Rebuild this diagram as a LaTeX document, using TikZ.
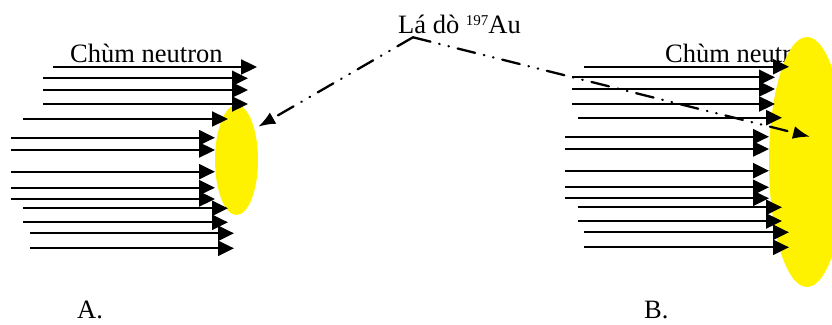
\documentclass[tikz,border=0pt]{standalone}
\usepackage{fontspec}
\setmainfont{Liberation Serif}
\usetikzlibrary{arrows.meta,shapes.geometric}

\begin{document}
\begin{tikzpicture}[
    x=1pt, y=-1pt,
    every node/.style = {font=\fontsize{26.5}{30}\selectfont, inner sep=0pt},
    foil/.style       = {ellipse, fill=yellow, draw=none, inner sep=0pt},
    beam/.style       = {-{Triangle[length=16pt, width=15pt]}, line width=2.3pt},
    probe/.style      = {-{Latex[length=17pt, width=13pt]}, line width=2.3pt, line cap=round,
                          dash pattern=on 18pt off 9pt on 0.5pt off 9pt on 0.5pt off 9pt},
    txt/.style        = {anchor=base west},
]
\useasboundingbox (0,0) rectangle (832,324);
\clip (0,0) rectangle (832,324);

% Titles above both beams
\node[txt] (ttlA) at (70,62.7) {Chùm neutron};
\node[txt] (ttlB) at (665,62.7) {Chùm neutron};

% Gold foils (B is the large one, cut by the right edge)
\node[foil, minimum width=43, minimum height=110] (foilA) at (236.5,160) {};
\node[foil, minimum width=76, minimum height=250] (foilB) at (807,162) {};

% Neutron beam A: y / start / tip
\foreach \y/\s/\t in {67/53/257, 78.3/43/248, 90/43/248, 104/43/248, 119/23/228,
    137.7/11/215, 150/11/215, 171.7/11/215, 187.7/11/215, 199/11/215,
    208.3/23/228, 222.3/23/228, 233.3/30/234, 248.3/30/234} {
    \draw[beam] (\s,\y) -- (\t,\y);
}

% Neutron beam B
\foreach \y/\s/\t in {66.7/584/789, 77.3/572/775, 89/572/775, 104/572/775, 117.7/578/782,
    136.7/565/769, 149/565/769, 170.7/565/769, 187.3/565/769, 198.3/565/769,
    207.3/578/782, 221/578/782, 232.3/584/789, 247.3/584/789} {
    \draw[beam] (\s,\y) -- (\t,\y);
}

% Foil label with pointers to both foils
\node[txt] (foilLbl) at (398,33.3) {Lá dò \raisebox{8pt}{\fontsize{15}{15}\selectfont 197}Au};
\coordinate (apex) at (413,37.3);
\coordinate (hitA) at (258.3,126.7);
\coordinate (hitB) at (810,136.7);
\draw[probe] (apex) -- (hitA);
\draw[probe] (apex) -- (hitB);

% Case labels
\node[txt] (capA) at (77,318.3) {A.};
\node[txt] (capB) at (644,318.3) {B.};

\end{tikzpicture}
\end{document}
